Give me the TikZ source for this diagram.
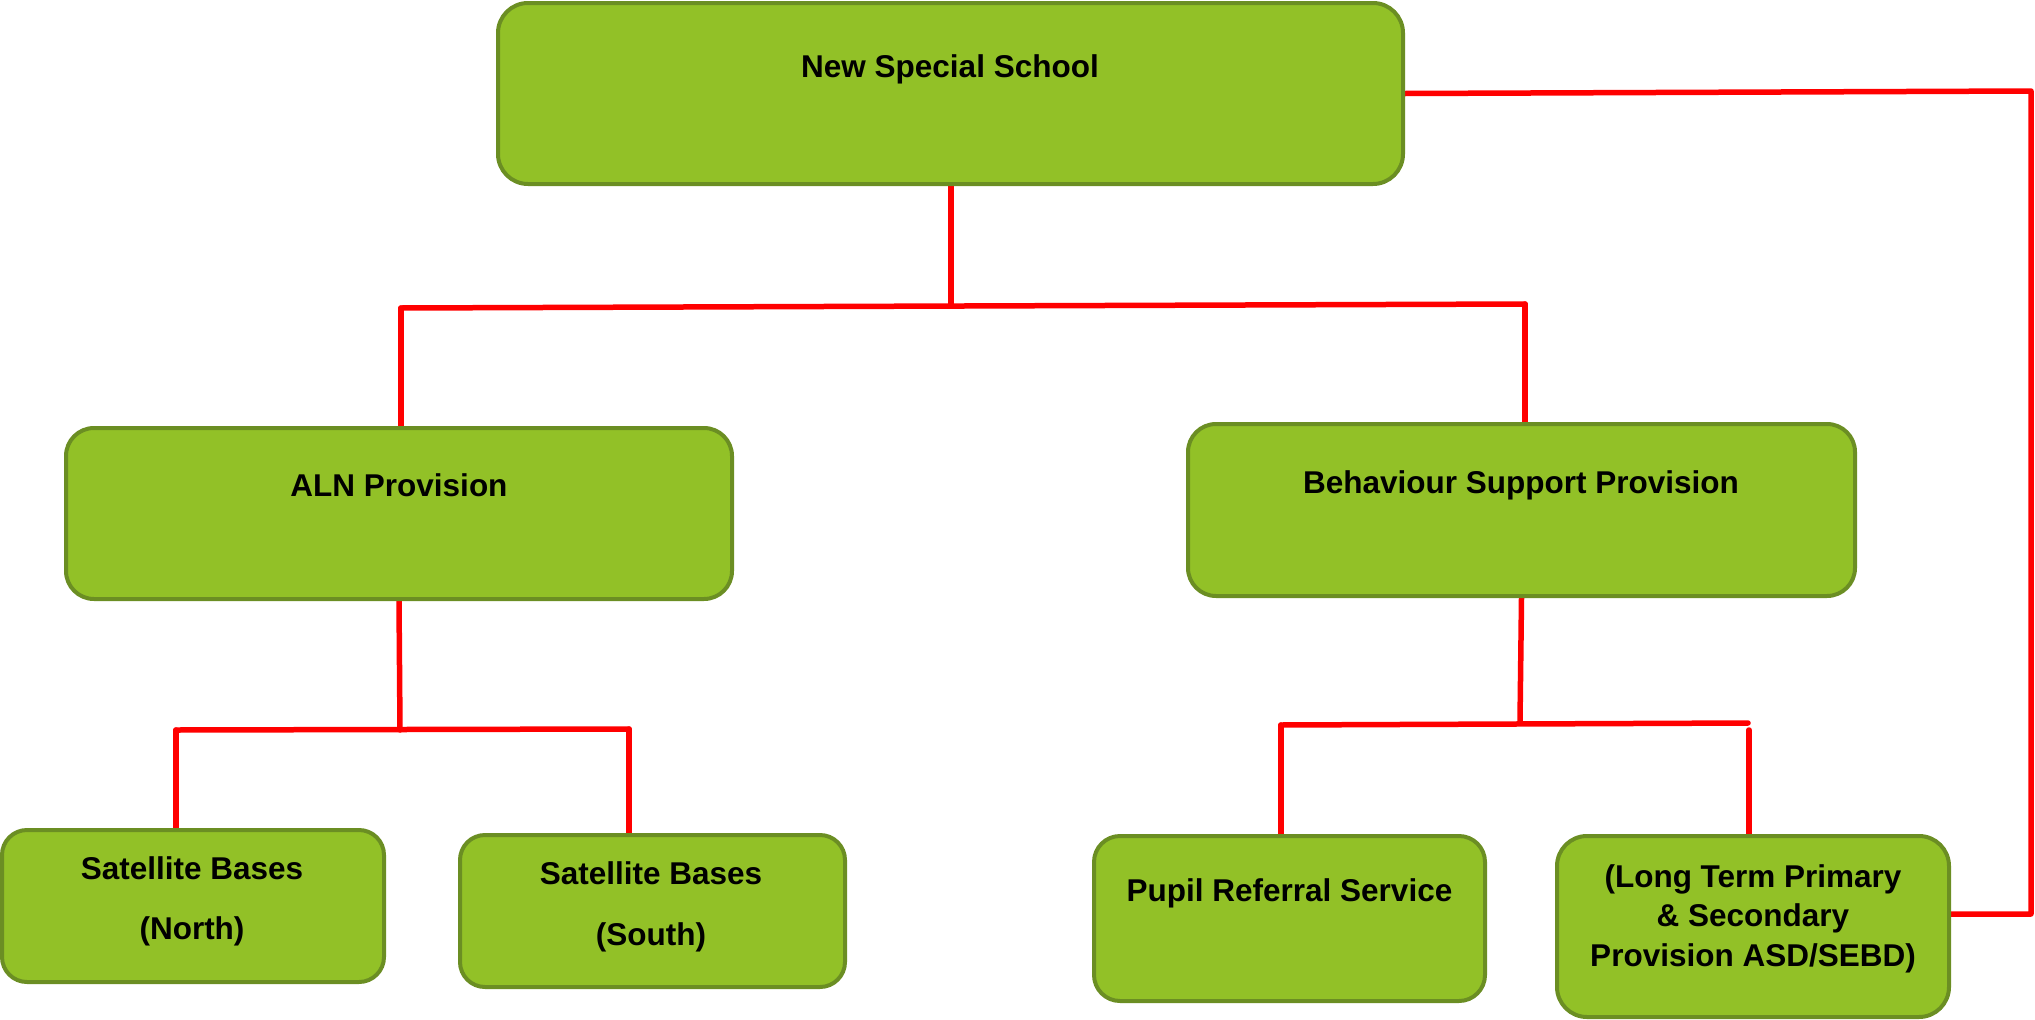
\documentclass[tikz,border=0pt]{standalone}
\usepackage{fontspec}
\setmainfont{Liberation Sans}
\definecolor{boxfill}{RGB}{146,193,39}
\definecolor{boxline}{RGB}{107,142,35}
\pgfdeclarelayer{background}
\pgfsetlayers{background,main}
\begin{document}
\begin{tikzpicture}[x=1pt,y=-1pt,
  box/.style={draw=boxline, fill=boxfill, line width=4pt, inner sep=0pt, rectangle},
  lbl/.style={font=\fontsize{31.5}{40}\selectfont\bfseries, anchor=base, inner sep=0pt},
  conn/.style={draw=red, line width=5.5pt, line cap=round, line join=round}]
\useasboundingbox (0,0) rectangle (2035,1020);
% boxes
\node[box, rounded corners=30pt, minimum width=905pt, minimum height=181pt] (top) at (950.5,93.5) {};
\node[box, rounded corners=28pt, minimum width=666pt, minimum height=171pt] (aln) at (399,513.5) {};
\node[box, rounded corners=28pt, minimum width=667pt, minimum height=172pt] (bsp) at (1521.5,510) {};
\node[box, rounded corners=25pt, minimum width=382pt, minimum height=152pt] (satN) at (193,906) {};
\node[box, rounded corners=25pt, minimum width=385pt, minimum height=152pt] (satS) at (652.5,911) {};
\node[box, rounded corners=26pt, minimum width=391pt, minimum height=165pt] (pupil) at (1289.5,918.5) {};
\node[box, rounded corners=30pt, minimum width=392pt, minimum height=181pt] (long) at (1753,926.5) {};
% labels
\node[lbl] (tTop) at (950,77) {New Special School};
\node[lbl] (tAln) at (399,496) {ALN Provision};
\node[lbl] (tBsp) at (1521,493) {Behaviour Support Provision};
\node[lbl] (tPupil) at (1289.5,901) {Pupil Referral Service};
\node[lbl] (tSatN1) at (192,879) {Satellite Bases};
\node[lbl] (tSatN2) at (192,939) {(North)};
\node[lbl] (tSatS1) at (651,884) {Satellite Bases};
\node[lbl] (tSatS2) at (651,945) {(South)};
\node[lbl] (tLong1) at (1753,887) {(Long Term Primary};
\node[lbl] (tLong2) at (1753,926) {\& Secondary};
\node[lbl] (tLong3) at (1753,966) {Provision ASD/SEBD)};
% connector points
\coordinate (j1) at (951,306);
\coordinate (b1l) at (401,308);
\coordinate (b1r) at (1525,304);
\coordinate (j2) at (400,730);
\coordinate (b2l) at (176,730);
\coordinate (b2r) at (629,729);
\coordinate (j3) at (1520,721);
\coordinate (b3l) at (1281,725);
\coordinate (b3r) at (1748,723);
\coordinate (b3r2) at (1749,730);
\coordinate (c1) at (2031,91);
\coordinate (c2) at (2031,914);
\begin{pgfonlayer}{background}
\draw[conn] (top.south -| j1) -- (j1);
\draw[conn] (b1l) -- (b1r);
\draw[conn] (b1l) -- (b1l |- aln.north);
\draw[conn] (b1r) -- (b1r |- bsp.north);
\draw[conn] (aln.south) -- (j2);
\draw[conn] (b2l) -- (b2r);
\draw[conn] (b2l) -- (b2l |- satN.north);
\draw[conn] (b2r) -- (b2r |- satS.north);
\draw[conn] (bsp.south) -- (j3);
\draw[conn] (b3l) -- (b3r);
\draw[conn] (b3l) -- (b3l |- pupil.north);
\draw[conn] (b3r2) -- (b3r2 |- long.north);
\draw[conn] (top.east) -- (c1) -- (c2) -- (c2 -| long.east);
\end{pgfonlayer}
\end{tikzpicture}
\end{document}
